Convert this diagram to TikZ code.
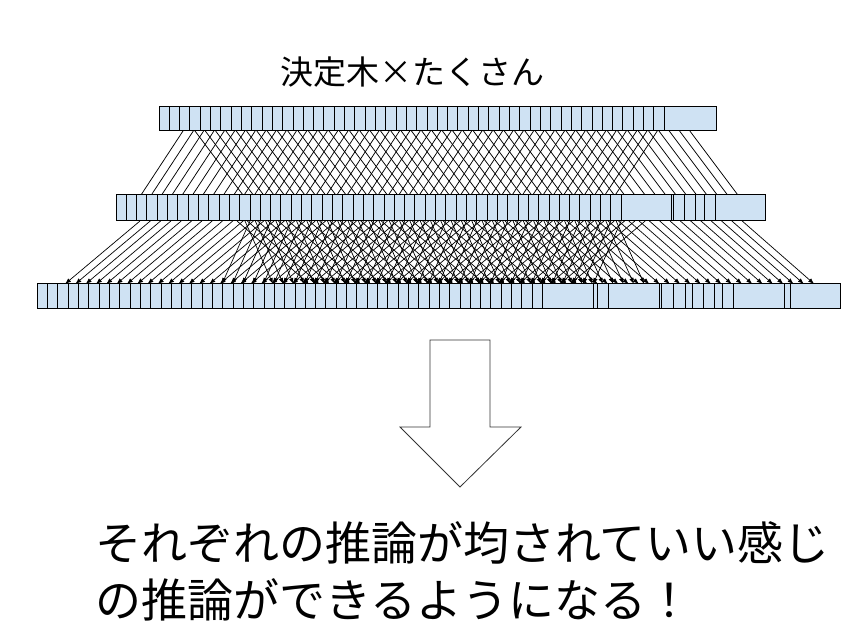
\documentclass[tikz,border=0pt]{standalone}
\usepackage{fontspec}
\newfontfamily\jpfont{Noto Sans CJK JP}
\usetikzlibrary{positioning,arrows.meta}
\definecolor{cellBlue}{RGB}{207,226,243}

\begin{document}
\begin{tikzpicture}[x=1pt, y=-1pt,
  row/.style={draw=black, line width=1pt, fill=cellBlue, inner sep=0pt},
  sep/.style={black, line width=1pt},
  thread/.style={black, line width=0.75pt},
  arr/.style={-{Latex[length=6pt,width=4.5pt]}, black, line width=0.7pt},
  title/.style={font=\jpfont\fontsize{33}{40}\selectfont},
  caption/.style={font=\jpfont\fontsize{46}{56}\selectfont, anchor=west, inner sep=0pt}]
  \useasboundingbox (0,0) rectangle (855,628);

  \node[title] (head) at (412,72) {決定木×たくさん};

  % first level: crossing lines
  \foreach \k in {0,...,46} {
    \coordinate (tl\k) at (183+10.31*\k,131);
    \coordinate (bl\k) at (141+10.31*\k,195);
    \draw[thread] (tl\k) -- (bl\k);
  }
  \foreach \k in {0,...,48} {
    \coordinate (tr\k) at (195+10.31*\k,131);
    \coordinate (br\k) at (243+10.31*\k,195);
    \draw[thread] (tr\k) -- (br\k);
  }

  % second level: arrows
  \foreach \k in {0,...,49} {
    \coordinate (ul\k) at (140+10.31*\k,221);
    \coordinate (dl\k) at (65+10.31*\k,284);
    \draw[arr] (ul\k) -- (dl\k);
    \coordinate (ur\k) at (237+10.31*\k,221);
    \coordinate (dr\k) at (309+10.31*\k,284);
    \draw[arr] (ur\k) -- (dr\k);
  }
  \foreach \k in {0,...,36} {
    \coordinate (us\k) at (250+10.31*\k,221);
    \coordinate (ds\k) at (222+10.31*\k,284);
    \draw[arr] (us\k) -- (ds\k);
    \coordinate (ut\k) at (245+10.31*\k,221);
    \coordinate (dt\k) at (273+10.31*\k,284);
    \draw[arr] (ut\k) -- (dt\k);
  }

  % rows of cells
  \node[row, minimum width=557pt, minimum height=24pt] (r1) at (437.5,119) {};
  \foreach \k in {1,...,49}
    \draw[sep] (159+10.31*\k,107) -- (159+10.31*\k,131);

  \node[row, minimum width=649pt, minimum height=26pt] (r2) at (440.5,208) {};
  \foreach \k in {1,...,49}
    \draw[sep] (116+10.31*\k,195) -- (116+10.31*\k,221);
  \foreach \x in {671,673,684.5,695.5,704.7,715.7}
    \draw[sep] (\x,195) -- (\x,221);

  \node[row, minimum width=803.4pt, minimum height=25pt] (r3) at (439,296.5) {};
  \foreach \k in {1,...,49}
    \draw[sep] (37.3+10.31*\k,284) -- (37.3+10.31*\k,309);
  \foreach \x in {593.3,597.3,608.3,659.3,661.7,673.3,685,692.3,703.3,714,722.7,733.3,784,790}
    \draw[sep] (\x,284) -- (\x,309);

  % big hollow arrow
  \draw[black!80, line width=0.8pt] (430,340) -- (490,340) -- (490,427) -- (521,427)
    -- (460,487) -- (400,427) -- (430,427) -- cycle;

  \node[caption] (line1) at (95,543) {それぞれの推論が均されていい感じ};
  \node[caption] (line2) at (95,600) {の推論ができるようになる！};
\end{tikzpicture}
\end{document}
